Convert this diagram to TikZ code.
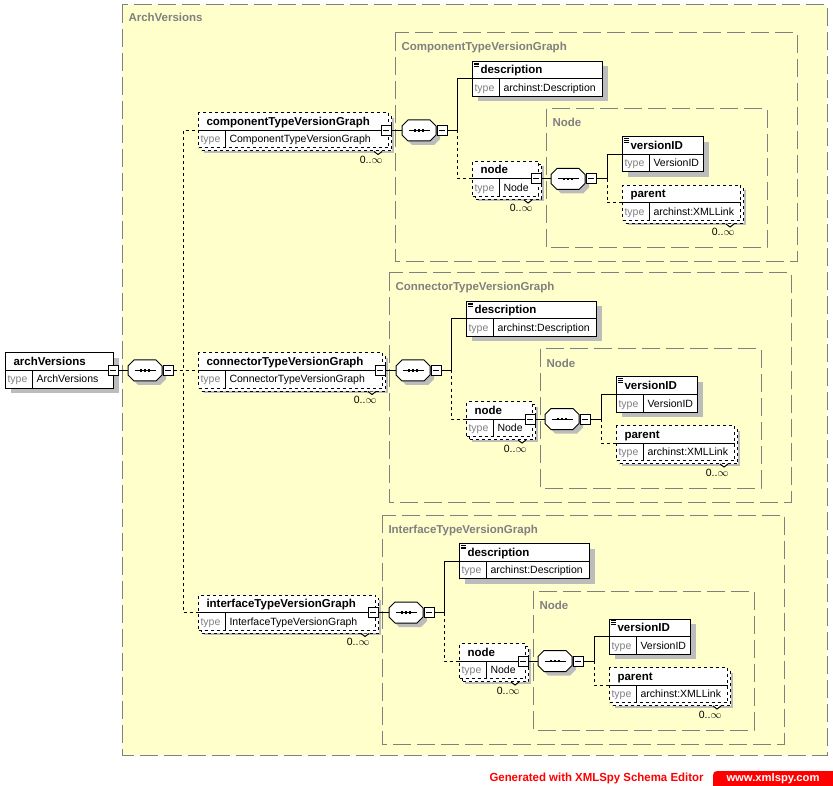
\documentclass[tikz,border=0pt]{standalone}
\usepackage{fontspec}
\setmainfont{Liberation Sans}
\usepackage{graphicx}
\usetikzlibrary{calc}
\definecolor{xsbg}{HTML}{FFFFCC}
\definecolor{xsgray}{HTML}{808080}
\definecolor{xsshade}{HTML}{BCBCBC}
\begin{document}
\begin{tikzpicture}[x=1pt,y=-1pt,line width=1pt,font=\fontsize{10.5}{12}\selectfont,
  grp/.style={draw=xsgray,dash pattern=on 18pt off 6pt},
  dotline/.style={dash pattern=on 3pt off 3pt},
  elem/.style={draw,fill=white,inner sep=0pt,minimum height=35pt},
  optel/.style={elem,dotline},
  shd/.style={fill=xsshade,inner sep=0pt,minimum height=35pt,anchor=west},
  lbl/.style={anchor=base west,inner sep=0pt,text=xsgray,font=\bfseries\fontsize{11.5}{12}\selectfont},
  occ/.style={anchor=base east,inner sep=0pt},
  minus/.style={draw,fill=white,minimum size=10pt,inner sep=0pt,
    path picture={\draw ([xshift=2pt]path picture bounding box.west) -- ([xshift=-2pt]path picture bounding box.east);}},
  pics/xel/.style args={#1/#2/#3/#4/#5}{code={
    \node[shd,minimum width=#1] (-shd) at (5,5) {};
    \node[optel,anchor=west,minimum width=#1] (-copy) at (#5,#5) {};
    \node[#4,anchor=west,minimum width=#1] (-box) at (0,0) {};
    \draw ([yshift=-18pt]-box.north west) -- ([yshift=-18pt]-box.north east)
      ([xshift=27pt,yshift=-18pt]-box.north west) -- ([xshift=27pt]-box.south west);
    \node[anchor=base west,inner sep=0pt,font=\bfseries\fontsize{11.5}{12}\selectfont] (-name) at ([xshift=8pt,yshift=-13pt]-box.north west) {#2};
    \node[anchor=base west,inner sep=0pt,text=xsgray] (-kind) at ([xshift=2pt,yshift=-30.5pt]-box.north west) {type};
    \node[anchor=base west,inner sep=0pt] (-type) at ([xshift=31pt,yshift=-30.5pt]-box.north west) {#3};
  }},
  pics/xseq/.style={code={
    \fill[xsshade,shift={(4,4)}] (-11,-10.5) -- (11,-10.5) -- (17,-4.5) -- (17,4.5) -- (11,10.5) -- (-11,10.5) -- (-17,4.5) -- (-17,-4.5) -- cycle;
    \draw[fill=white] (-11,-10.5) -- (11,-10.5) -- (17,-4.5) -- (17,4.5) -- (11,10.5) -- (-11,10.5) -- (-17,4.5) -- (-17,-4.5) -- cycle;
    \node[minimum width=34pt,minimum height=21pt,inner sep=0pt] (-s) at (0,0) {};
    \draw ([xshift=7pt]-s.west) -- ([xshift=-7pt]-s.east);
    \foreach \d in {-4,0,4}
      \fill ([xshift=\d pt]-s.center) +(-1.3pt,-1.3pt) rectangle +(1.3pt,1.3pt);
  }}]
  \fill[white] (0,0) rectangle (833,786);
  \useasboundingbox (0,0) rectangle (833,786);
  \draw[grp,fill=xsbg] (122,5) rectangle (827,755);
  \node[lbl] (avl) at (128,22) {ArchVersions};
  % the three version graphs
  \foreach \gx/\gy/\nm/\Nm/\k in {395/33/component/Component/1,389/273/connector/Connector/2,382/515/interface/Interface/3}{
  \begin{scope}[shift={(\gx,\gy)}]
    \draw[grp] (0,0) rectangle (402,229);
    \node[lbl] (gl\k) at (6,18) {\Nm TypeVersionGraph};
    \draw[grp] (151,76) rectangle (372,215);
    \node[lbl] (nl\k) at (157,94) {Node};
    \pic (tvg\k) at (198-\gx,97.5) {xel={\gx-205}/{\nm TypeVersionGraph}/{\Nm TypeVersionGraph}/optel/3};
    \node[minus] (tvg\k-m) at ([xshift=-3pt]tvg\k-box.east) {};
    \draw[fill=white] ([xshift=-15pt,yshift=-3pt]tvg\k-box.south east) -- ++(4,3) -- ++(4,-3);
    \node[occ] (tvg\k-o) at ([xshift=-6pt,yshift=-15pt]tvg\k-box.south east) {0..$\infty$};
    \pic (sq\k) at (24,97.5) {xseq};
    \node[minus,anchor=west] (sq\k-m) at (sq\k-s.east) {};
    \coordinate (bx\k) at (62,0);
    \pic (desc\k) at (77,46) {xel=130/description/archinst:Description/elem/0};
    \pic (nd\k) at (77,146) {xel=66/node/Node/optel/3};
    \node[minus] (nd\k-m) at ([xshift=-3pt]nd\k-box.east) {};
    \draw[fill=white] ([xshift=-15pt,yshift=-3pt]nd\k-box.south east) -- ++(4,3) -- ++(4,-3);
    \node[occ] (nd\k-o) at ([xshift=-6pt,yshift=-15pt]nd\k-box.south east) {0..$\infty$};
    \pic (nsq\k) at (173,146) {xseq};
    \node[minus,anchor=west] (nsq\k-m) at (nsq\k-s.east) {};
    \coordinate (nbx\k) at (212,0);
    \pic (vid\k) at (227,121.5) {xel=81/versionID/VersionID/elem/0};
    \pic (par\k) at (227,170) {xel=118/parent/archinst:XMLLink/optel/3};
    \draw[fill=white] ([xshift=-15pt,yshift=-3pt]par\k-box.south east) -- ++(4,3) -- ++(4,-3);
    \node[occ] (par\k-o) at ([xshift=-6pt,yshift=-15pt]par\k-box.south east) {0..$\infty$};
    \draw[line width=.6pt] \foreach \i in {2,3.8,5.6}{([xshift=2pt,yshift=-\i pt]desc\k-box.north west) -- ++(5,0)
      ([xshift=2pt,yshift=-\i pt]vid\k-box.north west) -- ++(5,0)};
    \draw (tvg\k-m.east) -- (sq\k-s.west);
    \draw (sq\k-m.east) -- (sq\k-m.east -| bx\k) |- (desc\k-box.west);
    \draw[dotline] (sq\k-m.east -| bx\k) |- (nd\k-box.west);
    \draw (nd\k-m.east) -- (nsq\k-s.west);
    \draw (nsq\k-m.east) -- (nsq\k-m.east -| nbx\k) |- (vid\k-box.west);
    \draw[dotline] (nsq\k-m.east -| nbx\k) |- (par\k-box.west);
  \end{scope}}
  % root element
  \pic (av) at (5,370.5) {xel=108/archVersions/ArchVersions/elem/0};
  \node[minus] (av-m) at ([xshift=-1pt]av-box.east) {};
  \pic (rsq) at (145,370.5) {xseq};
  \node[minus,anchor=west] (rsq-m) at (rsq-s.east) {};
  \coordinate (fork) at (183,0);
  \draw (av-m.east) -- (rsq-s.west);
  \foreach \k in {1,2,3}
    \draw[dotline] (rsq-m.east) -- (rsq-m.east -| fork) |- (tvg\k-box.west);
  % footer
  \node[anchor=west,inner sep=0pt,text=red] (gen) at (489,778) {\resizebox{214pt}{8.5pt}{\bfseries Generated with XMLSpy Schema Editor}};
  \fill[red] (713,786) -- (713,780) .. controls (713,771) .. (722,771) -- (833,771) -- (833,786) -- cycle;
  \node[anchor=west,inner sep=0pt,text=white] (web) at (726,778.5) {\resizebox{93pt}{8pt}{\bfseries www.xmlspy.com}};
\end{tikzpicture}
\end{document}
